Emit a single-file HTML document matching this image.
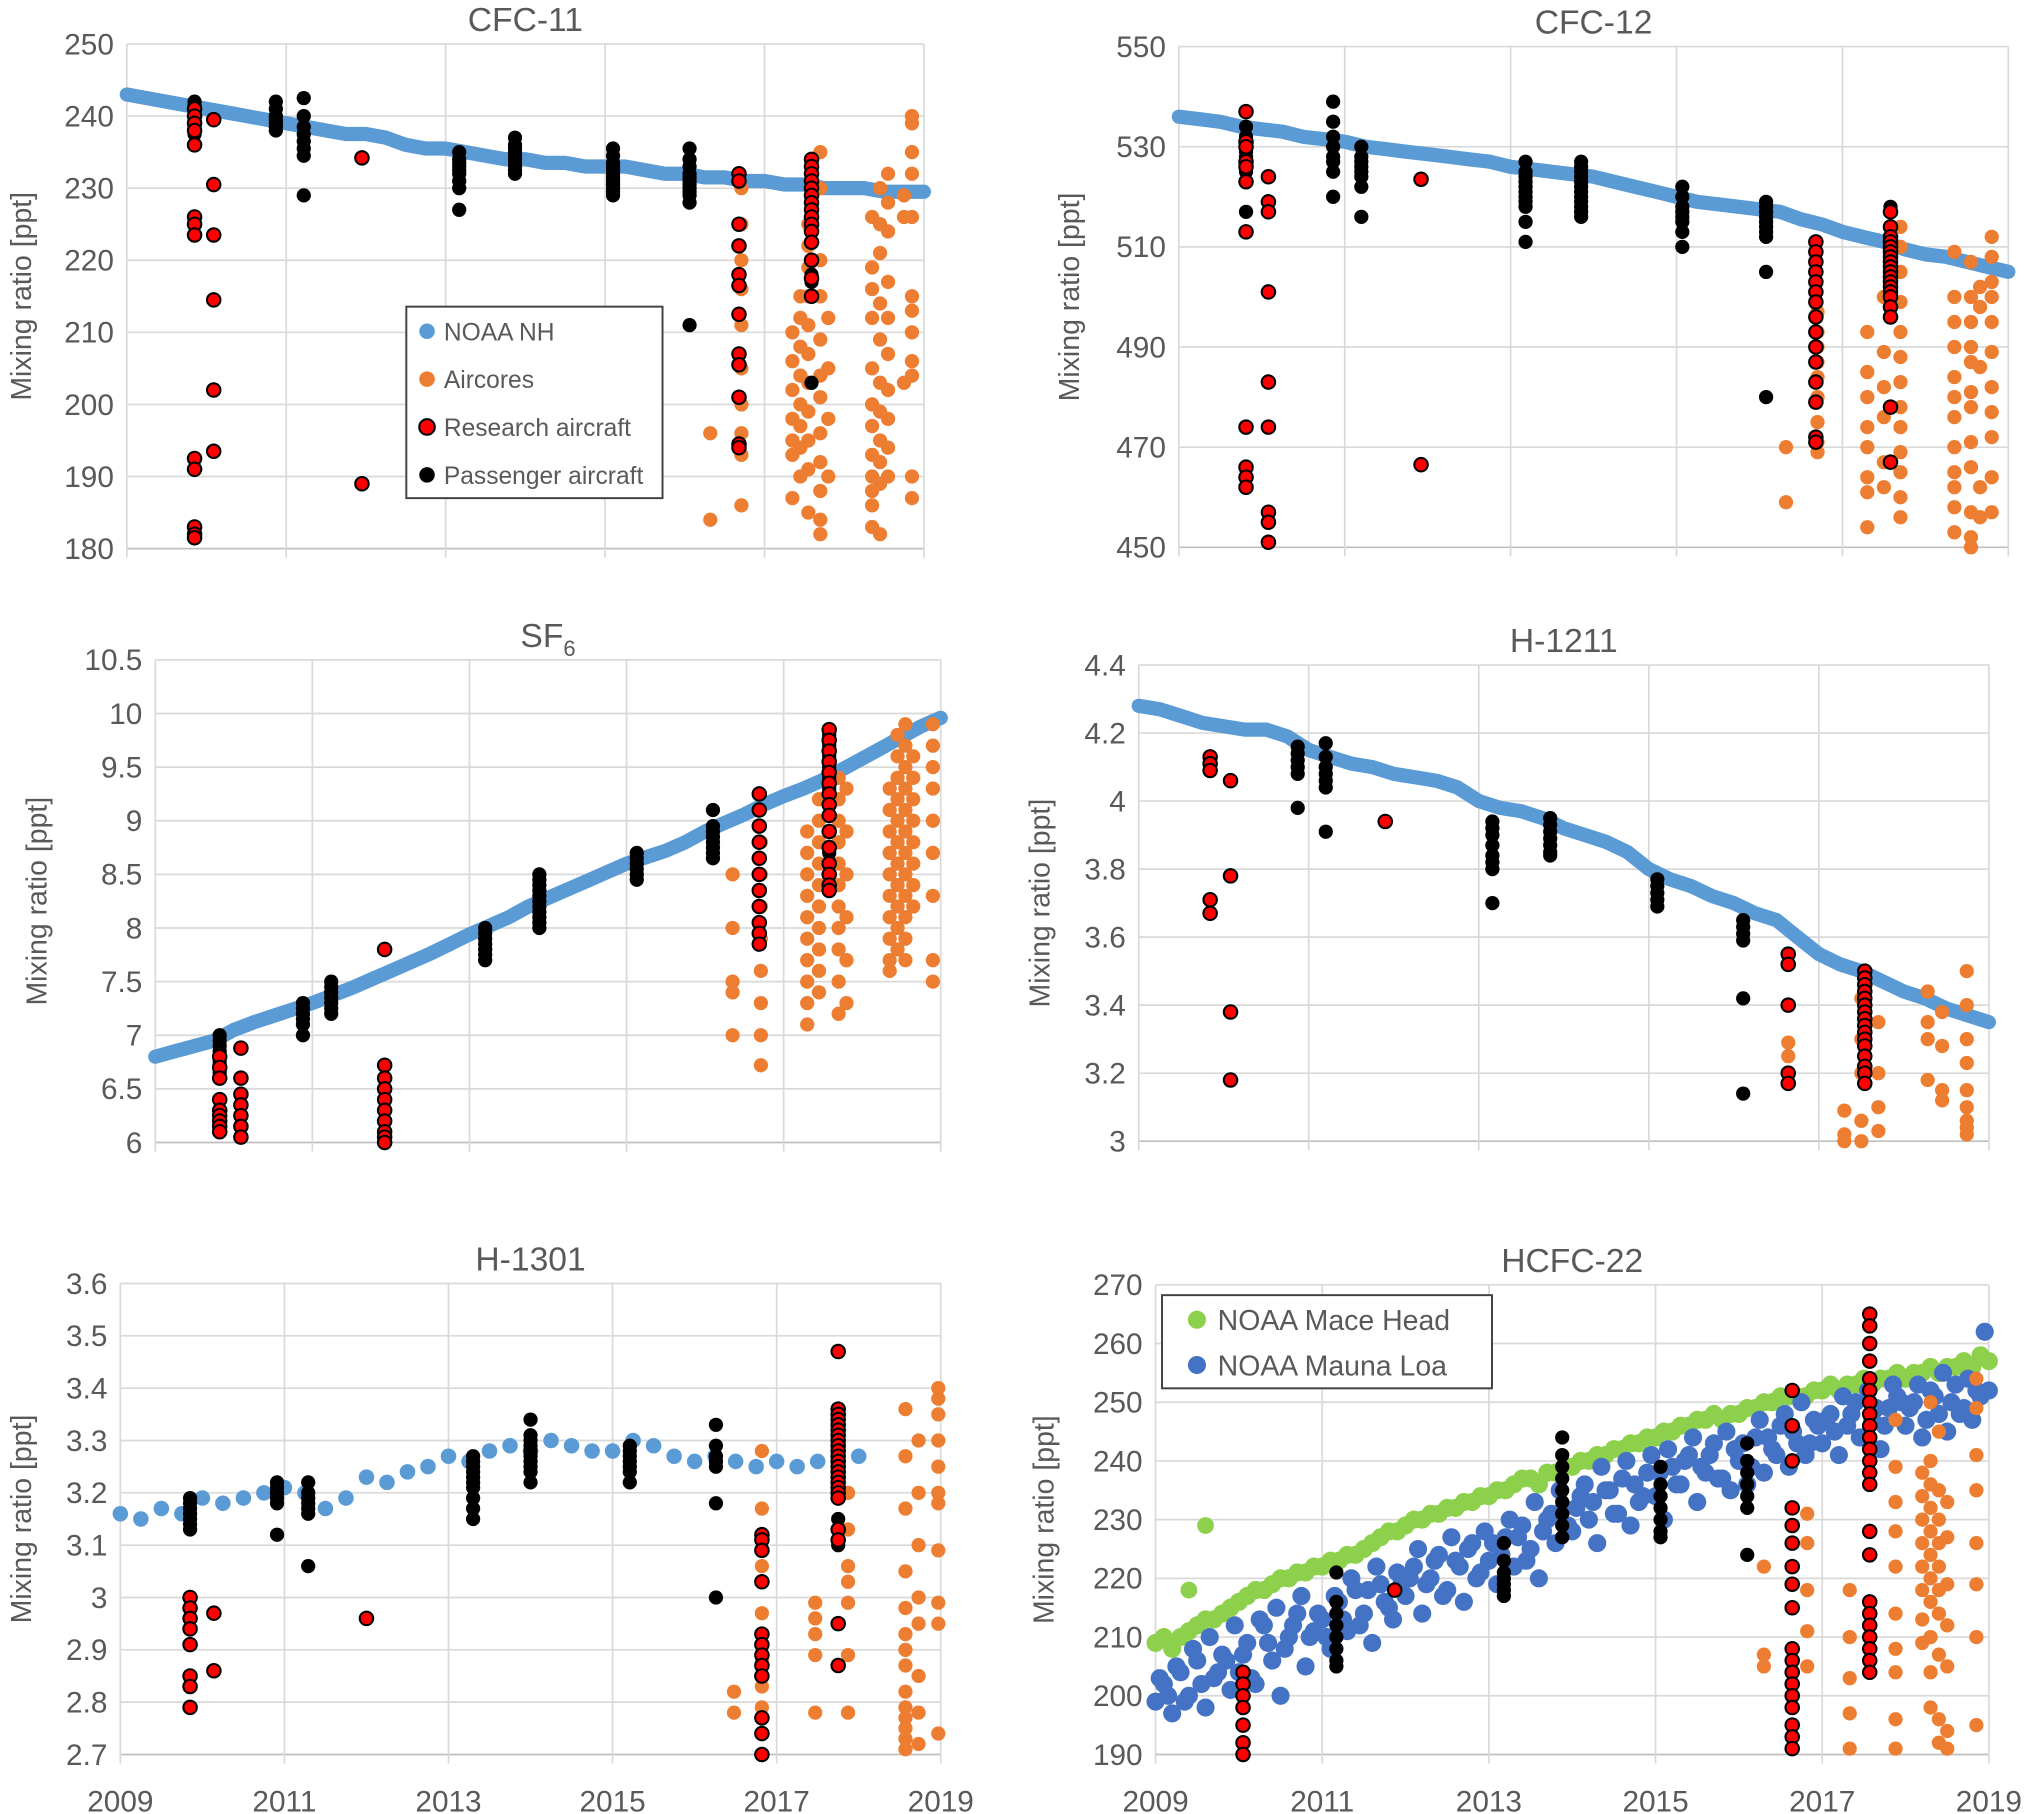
<!DOCTYPE html>
<html><head><meta charset="utf-8"><style>
html,body{margin:0;padding:0;background:#fff;}
svg{display:block;font-family:"Liberation Sans",sans-serif;}
</style></head><body>
<svg id="fig" xmlns="http://www.w3.org/2000/svg" width="2029" height="1814" viewBox="0 0 1568 1402" preserveAspectRatio="none"></svg>
<script>
const years = [2009, 2011, 2013, 2015, 2017, 2019];
const noaaStart = 2009, noaaStep = 0.25;
const c11Noaa = [243,242.5,242,241.5,241,240.5,240,239.5,239,238.5,238,237.5,237.5,237,236,235.5,235.5,235,234.5,234,234,233.5,233.5,233,233,233,232.5,232,232,231.5,231.5,231,231,230.5,230.5,230,230,230,229.5,229.5,229.5];
const c11Orange = [[2016.32,[196,184]],[2016.71,[230,225,220,216,211,205,200,196,193,186]],[2017.35,[210,206,202,198,195,193,187]],[2017.45,[215,212,208,204,200,197,194,190]],[2017.55,[225,222,219,215,211,207,203,199,195,191,185]],[2017.7,[235,230,220,215,209,204,201,196,192,188,184,182]],[2017.8,[212,205,198,190]],[2018.35,[226,219,216,212,205,200,197,193,190,188,186,183]],[2018.45,[230,225,221,214,209,203,199,195,192,189,182]],[2018.55,[232,228,224,217,212,207,202,198,194,190]],[2018.75,[229,226,203]],[2018.85,[240,239,235,232,226,215,213,210,206,204,190,187]]];
const c11Black = [[2009.85,[242,241.5,241,240.5,240,239.5,239,238.5,238,237.5]],[2010.87,[242,241,240,239.5,239,238.5,238]],[2011.22,[242.5,240,238.5,237.5,236.5,235.5,234.5,229]],[2013.17,[235,234,233.5,233,232.5,232,231,230,227]],[2013.87,[237,236,235.5,235,234.5,234,233.5,233,232.5,232]],[2015.1,[235.5,234.5,233.5,233,232.5,232,231.5,231,230.5,230,229.5,229]],[2016.06,[235.5,234,233,232,231.5,231,230.5,230,229.5,229,228,211]],[2017.59,[218,217,203]]];
const c11Red = [[2009.85,[241,240,239,238,236,226,225,223.5,192.5,191,183,182,181.5]],[2010.09,[239.5,230.5,223.5,214.5,202,193.5]],[2011.95,[234.2,189]],[2016.68,[232,231,225,222,218,216.5,212.5,207,205.5,201,194.5,194]],[2017.59,[234,233,232,231,230,229,228,227,226,225,224,222.5,220,217.5,215]]];
const c12Noaa = [536,535.5,535,534,533.5,533,532,531.5,531,530,529.5,529,528.5,528,527.5,527,526,525.5,525,524.5,524,523,522,521,520,519,518.5,518,517.5,517,515.5,514.5,513,512,511,509.5,508.5,508,507,506,505];
const c12Orange = [[2016.32,[470,459]],[2016.7,[497,493,490,487,484,480,475,471,469]],[2017.3,[493,485,480,474,470,464,461,454]],[2017.5,[500,489,482,476,467,462]],[2017.7,[514,510,505,499,493,488,483,478,474,469,465,460,456]],[2018.35,[509,500,495,490,484,480,476,470,465,462,458,453]],[2018.55,[507,500,495,490,487,481,478,471,466,457,452,450]],[2018.66,[502,498,486,462,456]],[2018.8,[512,508,503,500,495,489,482,477,472,464,457]]];
const c12Black = [[2009.81,[534,532,531,530,529,528,527,526,525,523,517]],[2010.86,[539,535,532,530,528,527,525,520]],[2011.2,[530,528,527,526,525,524,522,516]],[2013.18,[527,525,524,523,522,521,520,519,518,515,511]],[2013.85,[527,526,525,524,523,522,521,520,519,518,517,516]],[2015.07,[522,520,518,517,516,515,513,510]],[2016.08,[519,518,517,516,515,514,513,512,505,480]],[2017.58,[518]]];
const c12Red = [[2009.81,[537,531,530,527,526,523,513,474,466,464,462]],[2010.08,[524,519,517,501,483,474,457,455,451]],[2011.92,[523.5,466.5]],[2016.68,[511,509,507,505,503,501,499,496,493,490,487,483,479,472,471]],[2017.58,[517,514,512,511,510,509,508,507,506,505,504,503,502,501,500,498,496,478,467]]];
const sf6Noaa = [6.8,6.85,6.9,6.95,7.05,7.12,7.18,7.24,7.3,7.37,7.44,7.52,7.6,7.68,7.76,7.85,7.94,8.02,8.1,8.2,8.28,8.36,8.44,8.52,8.6,8.66,8.72,8.8,8.9,8.98,9.06,9.15,9.23,9.3,9.38,9.48,9.58,9.68,9.78,9.88,9.96];
const sf6Orange = [[2016.35,[8.5,8.0,7.5,7.4,7.0]],[2016.71,[8.8,8.5,8.2,7.9,7.6,7.3,7.0,6.72]],[2017.3,[8.9,8.7,8.5,8.3,8.1,7.9,7.7,7.5,7.3,7.1]],[2017.45,[9.2,9.0,8.8,8.6,8.4,8.2,8.0,7.8,7.6,7.4]],[2017.7,[9.4,9.2,9.0,8.8,8.6,8.4,8.2,8.0,7.8,7.5,7.2]],[2017.8,[9.3,8.9,8.5,8.1,7.7,7.3]],[2018.35,[9.3,9.1,8.9,8.7,8.5,8.3,8.1,7.9,7.7,7.6]],[2018.45,[9.8,9.6,9.4,9.2,9.0,8.8,8.6,8.4,8.2,8.0,7.8]],[2018.55,[9.9,9.7,9.5,9.3,9.1,8.9,8.7,8.5,8.3,8.1,7.9,7.7]],[2018.65,[9.6,9.4,9.2,9.0,8.8,8.6,8.4,8.2]],[2018.9,[9.9,9.7,9.5,9.3,9.0,8.7,8.3,7.7,7.5]]];
const sf6Black = [[2009.82,[7.0,6.95,6.9,6.85,6.8,6.75,6.7,6.65]],[2010.88,[7.3,7.25,7.2,7.15,7.1,7.0]],[2011.24,[7.5,7.45,7.4,7.35,7.3,7.25,7.2]],[2013.2,[8.0,7.95,7.9,7.85,7.8,7.75,7.7]],[2013.89,[8.5,8.45,8.4,8.35,8.3,8.25,8.2,8.15,8.1,8.05,8.0]],[2015.13,[8.7,8.65,8.6,8.55,8.5,8.45]],[2016.1,[9.1,8.95,8.9,8.85,8.8,8.75,8.7,8.65]],[2017.58,[9.8,9.7,9.6,9.5,9.4,9.3,8.7,8.6,8.5,8.4]]];
const sf6Red = [[2009.82,[6.8,6.7,6.6,6.4,6.3,6.25,6.2,6.15,6.1]],[2010.09,[6.88,6.6,6.45,6.35,6.25,6.15,6.05]],[2011.92,[7.8,6.72,6.6,6.5,6.4,6.3,6.2,6.1,6.05,6.0]],[2016.69,[9.25,9.1,8.95,8.8,8.65,8.5,8.35,8.2,8.05,7.95,7.85]],[2017.58,[9.85,9.75,9.65,9.55,9.45,9.35,9.25,9.15,9.05,8.9,8.75,8.6,8.5,8.4,8.35]]];
const h1211Noaa = [4.28,4.27,4.25,4.23,4.22,4.21,4.21,4.19,4.15,4.13,4.11,4.1,4.08,4.07,4.06,4.04,4.0,3.98,3.97,3.95,3.92,3.9,3.88,3.85,3.8,3.77,3.75,3.72,3.7,3.67,3.65,3.6,3.55,3.52,3.5,3.47,3.44,3.42,3.39,3.37,3.35];
const h1211Orange = [[2016.64,[3.29,3.25]],[2017.3,[3.09,3.02,3.0]],[2017.5,[3.42,3.3,3.2,3.06,3.0]],[2017.7,[3.35,3.2,3.1,3.03]],[2018.28,[3.44,3.35,3.3,3.18]],[2018.45,[3.38,3.28,3.15,3.12]],[2018.74,[3.5,3.4,3.3,3.23,3.15,3.1,3.06,3.04,3.02]]];
const h1211Black = [[2010.87,[4.16,4.14,4.12,4.1,4.08,3.98]],[2011.2,[4.17,4.13,4.1,4.08,4.06,4.04,3.91]],[2013.16,[3.94,3.92,3.9,3.87,3.84,3.82,3.8,3.7]],[2013.84,[3.95,3.93,3.91,3.89,3.87,3.85,3.84]],[2015.1,[3.77,3.75,3.73,3.71,3.69]],[2016.11,[3.65,3.63,3.61,3.59,3.42,3.14]]];
const h1211Red = [[2009.84,[4.13,4.11,4.09,3.71,3.67]],[2010.08,[4.06,3.78,3.38,3.18]],[2011.9,[3.94]],[2016.64,[3.55,3.52,3.4,3.2,3.17]],[2017.54,[3.5,3.48,3.46,3.44,3.42,3.4,3.38,3.36,3.34,3.32,3.3,3.28,3.25,3.22,3.2,3.17]]];
const h1301Noaa = [3.16,3.15,3.17,3.16,3.19,3.18,3.19,3.2,3.21,3.2,3.17,3.19,3.23,3.22,3.24,3.25,3.27,3.26,3.28,3.29,3.28,3.3,3.29,3.28,3.28,3.3,3.29,3.27,3.26,3.27,3.26,3.25,3.26,3.25,3.26,3.26,3.27];
const h1301Orange = [[2016.48,[2.82,2.78]],[2016.82,[3.28,3.17,3.06,3.03,2.97,2.93,2.88,2.83,2.79]],[2017.47,[2.99,2.96,2.93,2.89,2.78]],[2017.87,[3.2,3.13,3.06,3.03,2.99,2.89,2.78]],[2018.57,[3.36,3.27,3.17,3.05,2.98,2.93,2.9,2.87,2.82,2.79,2.77,2.75,2.73,2.71]],[2018.73,[3.3,3.2,3.1,3.0,2.95,2.85,2.78,2.72]],[2018.97,[3.4,3.38,3.35,3.3,3.25,3.2,3.18,3.09,2.99,2.95,2.74]]];
const h1301Black = [[2009.85,[3.19,3.18,3.17,3.16,3.15,3.14,3.13]],[2010.91,[3.22,3.21,3.2,3.19,3.18,3.12]],[2011.29,[3.22,3.2,3.19,3.18,3.17,3.16,3.06]],[2013.3,[3.27,3.26,3.25,3.24,3.23,3.22,3.21,3.19,3.17,3.15]],[2014.0,[3.34,3.31,3.3,3.29,3.28,3.27,3.26,3.25,3.24,3.22]],[2015.21,[3.29,3.28,3.27,3.26,3.25,3.24,3.22]],[2016.26,[3.33,3.29,3.27,3.26,3.25,3.18,3.0]],[2017.75,[3.36,3.3,3.25,3.2,3.15,3.1]]];
const h1301Red = [[2009.85,[3.0,2.98,2.96,2.94,2.91,2.85,2.83,2.79]],[2010.14,[2.97,2.86]],[2012.0,[2.96]],[2016.82,[3.12,3.11,3.09,3.03,2.93,2.91,2.89,2.87,2.85,2.77,2.74,2.7]],[2017.75,[3.47,3.36,3.35,3.34,3.33,3.32,3.31,3.3,3.29,3.28,3.27,3.26,3.25,3.24,3.23,3.22,3.21,3.2,3.19,3.13,3.11,2.95,2.87]]];
const maceStart = 2009, maceStep = 0.2;
const maceHead = [209,208,211,213,214,216,218,219,220,221,222,223,224,226,228,229,230,231,232,233,234,235,237,236,238,239,240,241,242,243,244,245,246,247,247,248,249,250,251,251,252,252,253,253,254,254,255,255,256,256,257];
const mace2Start = 2009.1;
const maceHead2 = [210,210,212,213,215,217,218,220,221,222,223,224,225,227,228,230,231,232,233,234,235,236,237,238,239,240,241,242,243,244,245,246,247,248,248,249,250,251,251,252,253,253,254,254,255,255,256,256,257,258];
const maceOutT = [2009.4, 2009.6];
const maceOutV = [218, 229];
const maunaStart = 2009, maunaStep = 0.1;
const maunaLoa = [199,202,197,204,200,206,198,203,207,201,
204,209,202,212,206,200,210,214,205,211,
213,208,216,211,218,214,209,219,215,221,
217,222,214,220,224,218,223,216,226,221,
223,219,227,222,229,225,220,230,226,232,
228,234,230,226,235,231,237,229,233,238,
234,230,239,236,241,233,238,243,237,235,
240,236,244,238,242,246,239,243,241,247,
243,248,241,246,250,244,247,242,249,251,
246,250,244,252,248,245,253,249,247,251,252];
const mauna2Start = 2009.05;
const maunaLoa2 = [203,200,205,199,208,202,210,204,206,212,
207,203,213,209,215,208,212,217,210,214,
210,217,213,220,212,218,222,216,213,219,
220,225,219,223,217,227,222,225,220,228,
226,224,230,227,223,233,228,231,235,229,
232,236,233,239,235,231,240,236,234,241,
238,242,236,240,244,239,241,237,245,242,
243,239,247,244,241,248,245,250,243,246,
247,245,251,248,244,252,249,246,253,250,
249,253,247,251,255,250,248,254,252,262];
const h22Orange = [[2016.3,[222,207,205]],[2016.82,[231,226,218,211,205]],[2017.33,[218,210,203,197,191]],[2017.88,[247,239,233,228,222,214,208,204,196,191]],[2018.2,[238,234,230,226,222,218,213,209]],[2018.3,[250,240,236,232,228,224,220,216,210,204,198]],[2018.4,[245,235,230,226,222,218,214,207,196,192]],[2018.5,[233,227,219,212,205,194,191]],[2018.85,[254,249,241,235,226,219,210,195]]];
const h22Black = [[2011.17,[221,216,214,212,210,208,206,205]],[2013.18,[226,223,221,220,219,218,217]],[2013.88,[244,241,239,237,235,233,231,229,227]],[2015.06,[239,236,234,232,230,228,227]],[2016.1,[243,240,238,236,234,232,224]]];
const h22Red = [[2010.05,[204,202,200,198,195,192,190]],[2011.87,[218]],[2016.64,[252,246,240,232,229,226,222,219,215,208,206,204,202,200,198,195,193,191]],[2017.57,[265,263,260,257,254,252,250,248,246,244,242,240,238,236,228,224,216,214,212,210,208,206,204]]];

const NS = "http://www.w3.org/2000/svg";
const svg = document.getElementById('fig');
function mk(tag, attrs, parent){ const e=document.createElementNS(NS,tag); for(const k in attrs) e.setAttribute(k,attrs[k]); (parent||svg).appendChild(e); return e; }
const C = {noaa:'#5B9BD5', orange:'#ED7D31', black:'#000', red:'#FF0000', green:'#8CD04B', blue:'#4472C4', txt:'#595959', grid:'#D9D9D9'};

function panel(name, titleHTML, x0,x1,y0,y1, vmin,vmax,step, ytx, xlabels){
  const g = mk('g',{});
  
  
  const sx = t => x0 + (t-2009)/10*(x1-x0);
  const sy = v => y1 - (v-vmin)/(vmax-vmin)*(y1-y0);
  const n = Math.round((vmax-vmin)/step);
  for(let i=0;i<=n;i++){
    const v = vmin+i*step, y=sy(v);
    const l = mk('line',{x1:x0,x2:x1,y1:y,y2:y,stroke:i==0?'#BFBFBF':C.grid,'stroke-width':1.3},g);
    
    
    const tx = mk('text',{x:x0-10,y:y+8,'text-anchor':'end','font-size':23,fill:C.txt},g);
    
    
    tx.textContent = String(parseFloat(v.toFixed(2)));
  }
  years.forEach(yr=>{
    const x=sx(yr);
    const l = mk('line',{x1:x,x2:x,y1:y0,y2:y1+7,stroke:C.grid,'stroke-width':1.3},g);
    
    
    if(xlabels){
      const tx = mk('text',{x:x,y:1400,'text-anchor':'middle','font-size':23,fill:C.txt},g);
      
      
      tx.textContent = yr;
    }
  });
  const tt = mk('text',{x:(x0+x1)/2,y:y0-10,'text-anchor':'middle','font-size':26,fill:C.txt},g);
  
  
  tt.innerHTML = titleHTML;
  const yt = mk('text',{x:ytx,y:(y0+y1)/2,'text-anchor':'middle','font-size':22,fill:C.txt,transform:`rotate(-90 ${ytx} ${(y0+y1)/2})`},g);
  
  
  yt.textContent = 'Mixing ratio [ppt]';
  return {g,sx,sy};
}
function noaaLine(p, vals, start, stepT){
  const pts = vals.map((v,i)=>p.sx(start+i*stepT).toFixed(1)+','+p.sy(v).toFixed(1)).join(' ');
  const pl = mk('polyline',{points:pts,fill:'none',stroke:C.noaa,'stroke-width':11,'stroke-linecap':'round','stroke-linejoin':'round'},p.g);
  
  
}
function dots(p, ts, vs, color, r, name){
  ts.forEach((t,i)=>{
    const c = mk('circle',{cx:p.sx(t),cy:p.sy(vs[i]),r:r,fill:color},p.g);
    
    
  });
}
function clusters(p, arr, kind){
  arr.forEach(([t,vals])=>{
    vals.forEach(v=>{
      const a = {cx:p.sx(t),cy:p.sy(v),r:5.5};
      if(kind=='red'){a.fill=C.red;a.stroke='#000';a['stroke-width']=1.6;a.r=5.2;}
      else a.fill = kind=='orange'?C.orange:C.black;
      const c = mk('circle',a,p.g);
      
      
    });
  });
}
function seriesT(start, stepT, len){ const o=[]; for(let i=0;i<len;i++) o.push(start+i*stepT); return o; }

let p = panel('cfc11','CFC-11',98,714,34,424,180,250,10,24,false);
noaaLine(p,c11Noaa,noaaStart,noaaStep);
clusters(p,c11Orange,'orange'); clusters(p,c11Black,'black'); clusters(p,c11Red,'red');
(function(){
  const lg = mk('g',{},p.g);
  
  
  const b = mk('rect',{x:314,y:237,width:198,height:148,fill:'#fff',stroke:'#404040','stroke-width':1.5},lg);
  
  
  const items=[['NOAA NH',C.noaa,0],['Aircores',C.orange,0],['Research aircraft',C.red,1],['Passenger aircraft',C.black,0]];
  items.forEach((it,i)=>{
    const y=256+i*37;
    const c=mk('circle',{cx:330,cy:y,r:6,fill:it[1],stroke:it[2]?'#000':'none','stroke-width':1.6},lg);
    
    
    const t=mk('text',{x:343,y:y+7,'font-size':19,fill:C.txt},lg);
    
    
    t.textContent=it[0];
  });
})();
p = panel('cfc12','CFC-12',911,1552,36,423,450,550,20,834,false);
noaaLine(p,c12Noaa,noaaStart,noaaStep);
clusters(p,c12Orange,'orange'); clusters(p,c12Black,'black'); clusters(p,c12Red,'red');
p = panel('sf6','SF<tspan font-size="17" dy="7">6</tspan>',120,727,510,883,6,10.5,0.5,36,false);
noaaLine(p,sf6Noaa,noaaStart,noaaStep);
clusters(p,sf6Orange,'orange'); clusters(p,sf6Black,'black'); clusters(p,sf6Red,'red');
p = panel('h1211','H-1211',880,1537,514,882,3,4.4,0.2,811,false);
noaaLine(p,h1211Noaa,noaaStart,noaaStep);
clusters(p,h1211Orange,'orange'); clusters(p,h1211Black,'black'); clusters(p,h1211Red,'red');
p = panel('h1301','H-1301',93,727,992,1356,2.7,3.6,0.1,24,true);
dots(p,seriesT(noaaStart,noaaStep,h1301Noaa.length),h1301Noaa,C.noaa,6,'noaa-nh-point');
clusters(p,h1301Orange,'orange'); clusters(p,h1301Black,'black'); clusters(p,h1301Red,'red');
p = panel('hcfc22','HCFC-22',893,1537,993,1356,190,270,10,814,true);
dots(p,seriesT(maceStart,maceStep,maceHead.length),maceHead,C.green,7,'mace-head-point');
dots(p,seriesT(mace2Start,maceStep,maceHead2.length),maceHead2,C.green,7,'mace-head-point');
dots(p,maceOutT,maceOutV,C.green,6.5,'mace-head-point');
dots(p,seriesT(maunaStart,maunaStep,maunaLoa.length),maunaLoa,C.blue,7,'mauna-loa-point');
dots(p,seriesT(mauna2Start,maunaStep,maunaLoa2.length),maunaLoa2,C.blue,7,'mauna-loa-point');
clusters(p,h22Orange,'orange'); clusters(p,h22Black,'black'); clusters(p,h22Red,'red');
(function(){
  const lg = mk('g',{},p.g);
  
  
  const b = mk('rect',{x:898,y:1001,width:255,height:72,fill:'#fff',stroke:'#404040','stroke-width':1.5},lg);
  
  
  [['NOAA Mace Head',C.green],['NOAA Mauna Loa',C.blue]].forEach((it,i)=>{
    const y=1020+i*35;
    const c=mk('circle',{cx:925,cy:y,r:7,fill:it[1]},lg);
    
    
    const t=mk('text',{x:941,y:y+8,'font-size':22,fill:C.txt},lg);
    
    
    t.textContent=it[0];
  });
})();
</script>
</body></html>
